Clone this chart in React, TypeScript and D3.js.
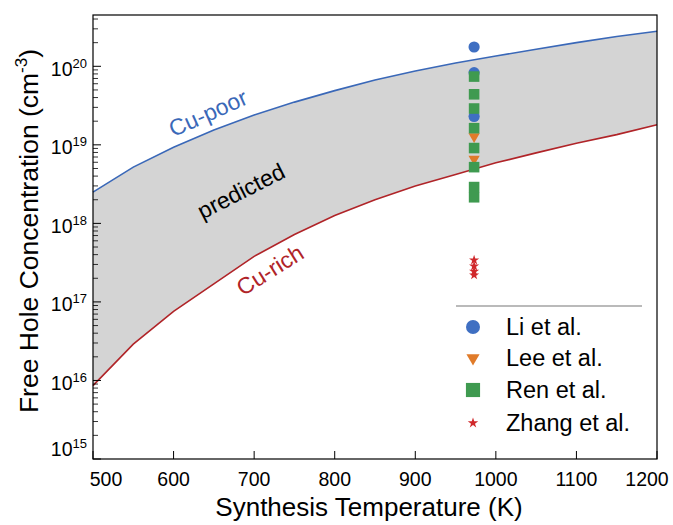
// @ts-nocheck
import React, { useEffect, useRef } from "react";
import * as d3 from "d3";

// band edges (K, cm^-3)
const temps = [500, 550, 600, 650, 700, 750, 800, 850, 900, 950, 1000, 1050, 1100, 1150, 1200];
const cuPoor = [2.5e18, 5.2e18, 9.3e18, 1.55e19, 2.4e19, 3.5e19, 4.9e19, 6.7e19, 8.7e19, 1.1e20, 1.35e20, 1.65e20, 2.0e20, 2.4e20, 2.8e20];
const cuRich = [8.6e15, 2.9e16, 7.6e16, 1.7e17, 3.8e17, 7.2e17, 1.26e18, 2.0e18, 3.0e18, 4.2e18, 5.9e18, 7.9e18, 1.05e19, 1.35e19, 1.8e19];

// experiments, all at 973 K
const expT = 973;
const liVals = [1.76e20, 8.3e19, 2.3e19];
const leeVals = [1.28e19, 6.6e18];
const renVals = [7.4e19, 4.4e19, 2.9e19, 1.63e19, 9.1e18, 5.2e18, 2.9e18, 2.15e18];
const zhangVals = [3.4e17, 2.85e17, 2.45e17, 2.2e17];

const xTicks = [500, 600, 700, 800, 900, 1000, 1100, 1200];
const yExps = [15, 16, 17, 18, 19, 20];

const FONT = "'Liberation Sans', Arial, Helvetica, sans-serif";
const BLUE = "#3f6fc2";
const ORANGE = "#e07b2a";
const GREEN = "#3f9a50";
const RED = "#d0282b";

const App = () => {
  const svgRef = useRef();

  useEffect(() => {
    const width = 673;
    const height = 525;
    const margin = { top: 15, right: 16, bottom: 66, left: 93 };
    const w = width - margin.left - margin.right;
    const h = height - margin.top - margin.bottom;

    d3.select(svgRef.current).selectAll("*").remove();
    const root = d3
      .select(svgRef.current)
      .attr("width", width)
      .attr("height", height)
      .style("font-family", FONT);

    const svg = root
      .append("g")
      .attr("transform", `translate(${margin.left},${margin.top})`);

    const x = d3.scaleLinear().domain([500, 1200]).range([0, w]);
    const y = d3.scaleLog().domain([1e15, 4.5e20]).range([h, 0]);

    const band = temps.map((t, i) => ({ t, hi: cuPoor[i], lo: cuRich[i] }));

    // shaded predicted region
    svg
      .append("path")
      .datum(band)
      .attr("fill", "#d4d4d4")
      .attr(
        "d",
        d3
          .area()
          .x((d) => x(d.t))
          .y0((d) => y(d.lo))
          .y1((d) => y(d.hi)),
      );

    const line = d3
      .line()
      .x((d) => x(d[0]))
      .y((d) => y(d[1]));

    svg
      .append("path")
      .datum(temps.map((t, i) => [t, cuPoor[i]]))
      .attr("fill", "none")
      .attr("stroke", "#3a68b8")
      .attr("stroke-width", 1.6)
      .attr("d", line);

    svg
      .append("path")
      .datum(temps.map((t, i) => [t, cuRich[i]]))
      .attr("fill", "none")
      .attr("stroke", "#b02428")
      .attr("stroke-width", 1.6)
      .attr("d", line);

    // annotations
    const note = (txt, cx, cy, rot, color) =>
      root
        .append("text")
        .attr("transform", `translate(${cx},${cy}) rotate(${rot})`)
        .attr("text-anchor", "middle")
        .attr("dy", "0.35em")
        .style("font-size", "23px")
        .style("fill", color)
        .text(txt);
    note("Cu-poor", 208, 113, -24, "#3a68b8");
    note("predicted", 241, 191, -27, "#000");
    note("Cu-rich", 270, 270, -32, "#b02428");

    // markers
    const sym = (type, size) => d3.symbol().type(type).size(size)();
    const drawSet = (vals, type, size, color, rot = 0) => {
      svg
        .selectAll(null)
        .data(vals)
        .enter()
        .append("path")
        .attr("d", sym(type, size))
        .attr(
          "transform",
          (d) => `translate(${x(expT)},${y(d)}) rotate(${rot})`,
        )
        .attr("fill", color);
    };
    drawSet(liVals, d3.symbolCircle, Math.PI * 5.6 * 5.6, BLUE);
    drawSet(leeVals, d3.symbolTriangle, 55, ORANGE, 180);
    drawSet(renVals, d3.symbolSquare, 112, GREEN);
    drawSet(zhangVals, d3.symbolStar, 32, RED);

    // frame
    svg
      .append("rect")
      .attr("width", w)
      .attr("height", h)
      .attr("fill", "none")
      .attr("stroke", "#000")
      .attr("stroke-width", 1.2);

    // x ticks (inside)
    xTicks.forEach((t) => {
      svg
        .append("line")
        .attr("x1", x(t))
        .attr("x2", x(t))
        .attr("y1", h)
        .attr("y2", h - 8)
        .attr("stroke", "#000");
      const lx = Math.max(13, Math.min(w - 10, x(t)));
      svg
        .append("text")
        .attr("x", lx)
        .attr("y", h + 27)
        .attr("text-anchor", "middle")
        .style("font-size", "19.5px")
        .text(t);
    });

    // y ticks (inside, with log minors)
    yExps.forEach((e) => {
      const yy = y(Math.pow(10, e));
      svg
        .append("line")
        .attr("x1", 0)
        .attr("x2", 8)
        .attr("y1", yy)
        .attr("y2", yy)
        .attr("stroke", "#000");
      for (let k = 2; k <= 9; k++) {
        const v = k * Math.pow(10, e);
        if (v > y.domain()[1]) break;
        svg
          .append("line")
          .attr("x1", 0)
          .attr("x2", 5)
          .attr("y1", y(v))
          .attr("y2", y(v))
          .attr("stroke", "#000")
          .attr("stroke-width", 0.8);
      }
      const ty = Math.min(yy + 9.5, h - 3);
      const lbl = svg
        .append("text")
        .attr("x", -6)
        .attr("y", ty)
        .attr("text-anchor", "end")
        .style("font-size", "19.5px");
      lbl.append("tspan").text("10");
      lbl
        .append("tspan")
        .attr("dy", -8)
        .style("font-size", "13px")
        .text(e);
    });

    // axis titles
    root
      .append("text")
      .attr("x", margin.left + w / 2 - 6)
      .attr("y", 516)
      .attr("text-anchor", "middle")
      .style("font-size", "26px")
      .text("Synthesis Temperature (K)");

    const yl = root
      .append("text")
      .attr("transform", `translate(38,${margin.top + h / 2 - 6}) rotate(-90)`)
      .attr("text-anchor", "middle")
      .style("font-size", "26.5px");
    yl.append("tspan").text("Free Hole Concentration (cm");
    yl.append("tspan").attr("dy", -11).style("font-size", "17px").text("-3");
    yl.append("tspan").attr("dy", 11).text(")");

    // legend
    const lg = root.append("g");
    lg.append("line")
      .attr("x1", 456)
      .attr("x2", 642)
      .attr("y1", 306)
      .attr("y2", 306)
      .attr("stroke", "#777")
      .attr("stroke-width", 1.2);
    const items = [
      { name: "Li et al.", type: d3.symbolCircle, size: Math.PI * 49, color: BLUE, rot: 0 },
      { name: "Lee et al.", type: d3.symbolTriangle, size: 75, color: ORANGE, rot: 180 },
      { name: "Ren et al.", type: d3.symbolSquare, size: 200, color: GREEN, rot: 0 },
      { name: "Zhang et al.", type: d3.symbolStar, size: 34, color: RED, rot: 0 },
    ];
    const rowY = [327, 358, 390, 423];
    items.forEach((it, i) => {
      lg.append("path")
        .attr("d", sym(it.type, it.size))
        .attr("transform", `translate(473,${rowY[i]}) rotate(${it.rot})`)
        .attr("fill", it.color);
      lg.append("text")
        .attr("x", 506)
        .attr("y", rowY[i] + 8)
        .style("font-size", "23.5px")
        .text(it.name);
    });
  }, []);

  return <svg ref={svgRef} style={{ position: "absolute", left: 0, top: 0 }}></svg>;
};

export default App;
